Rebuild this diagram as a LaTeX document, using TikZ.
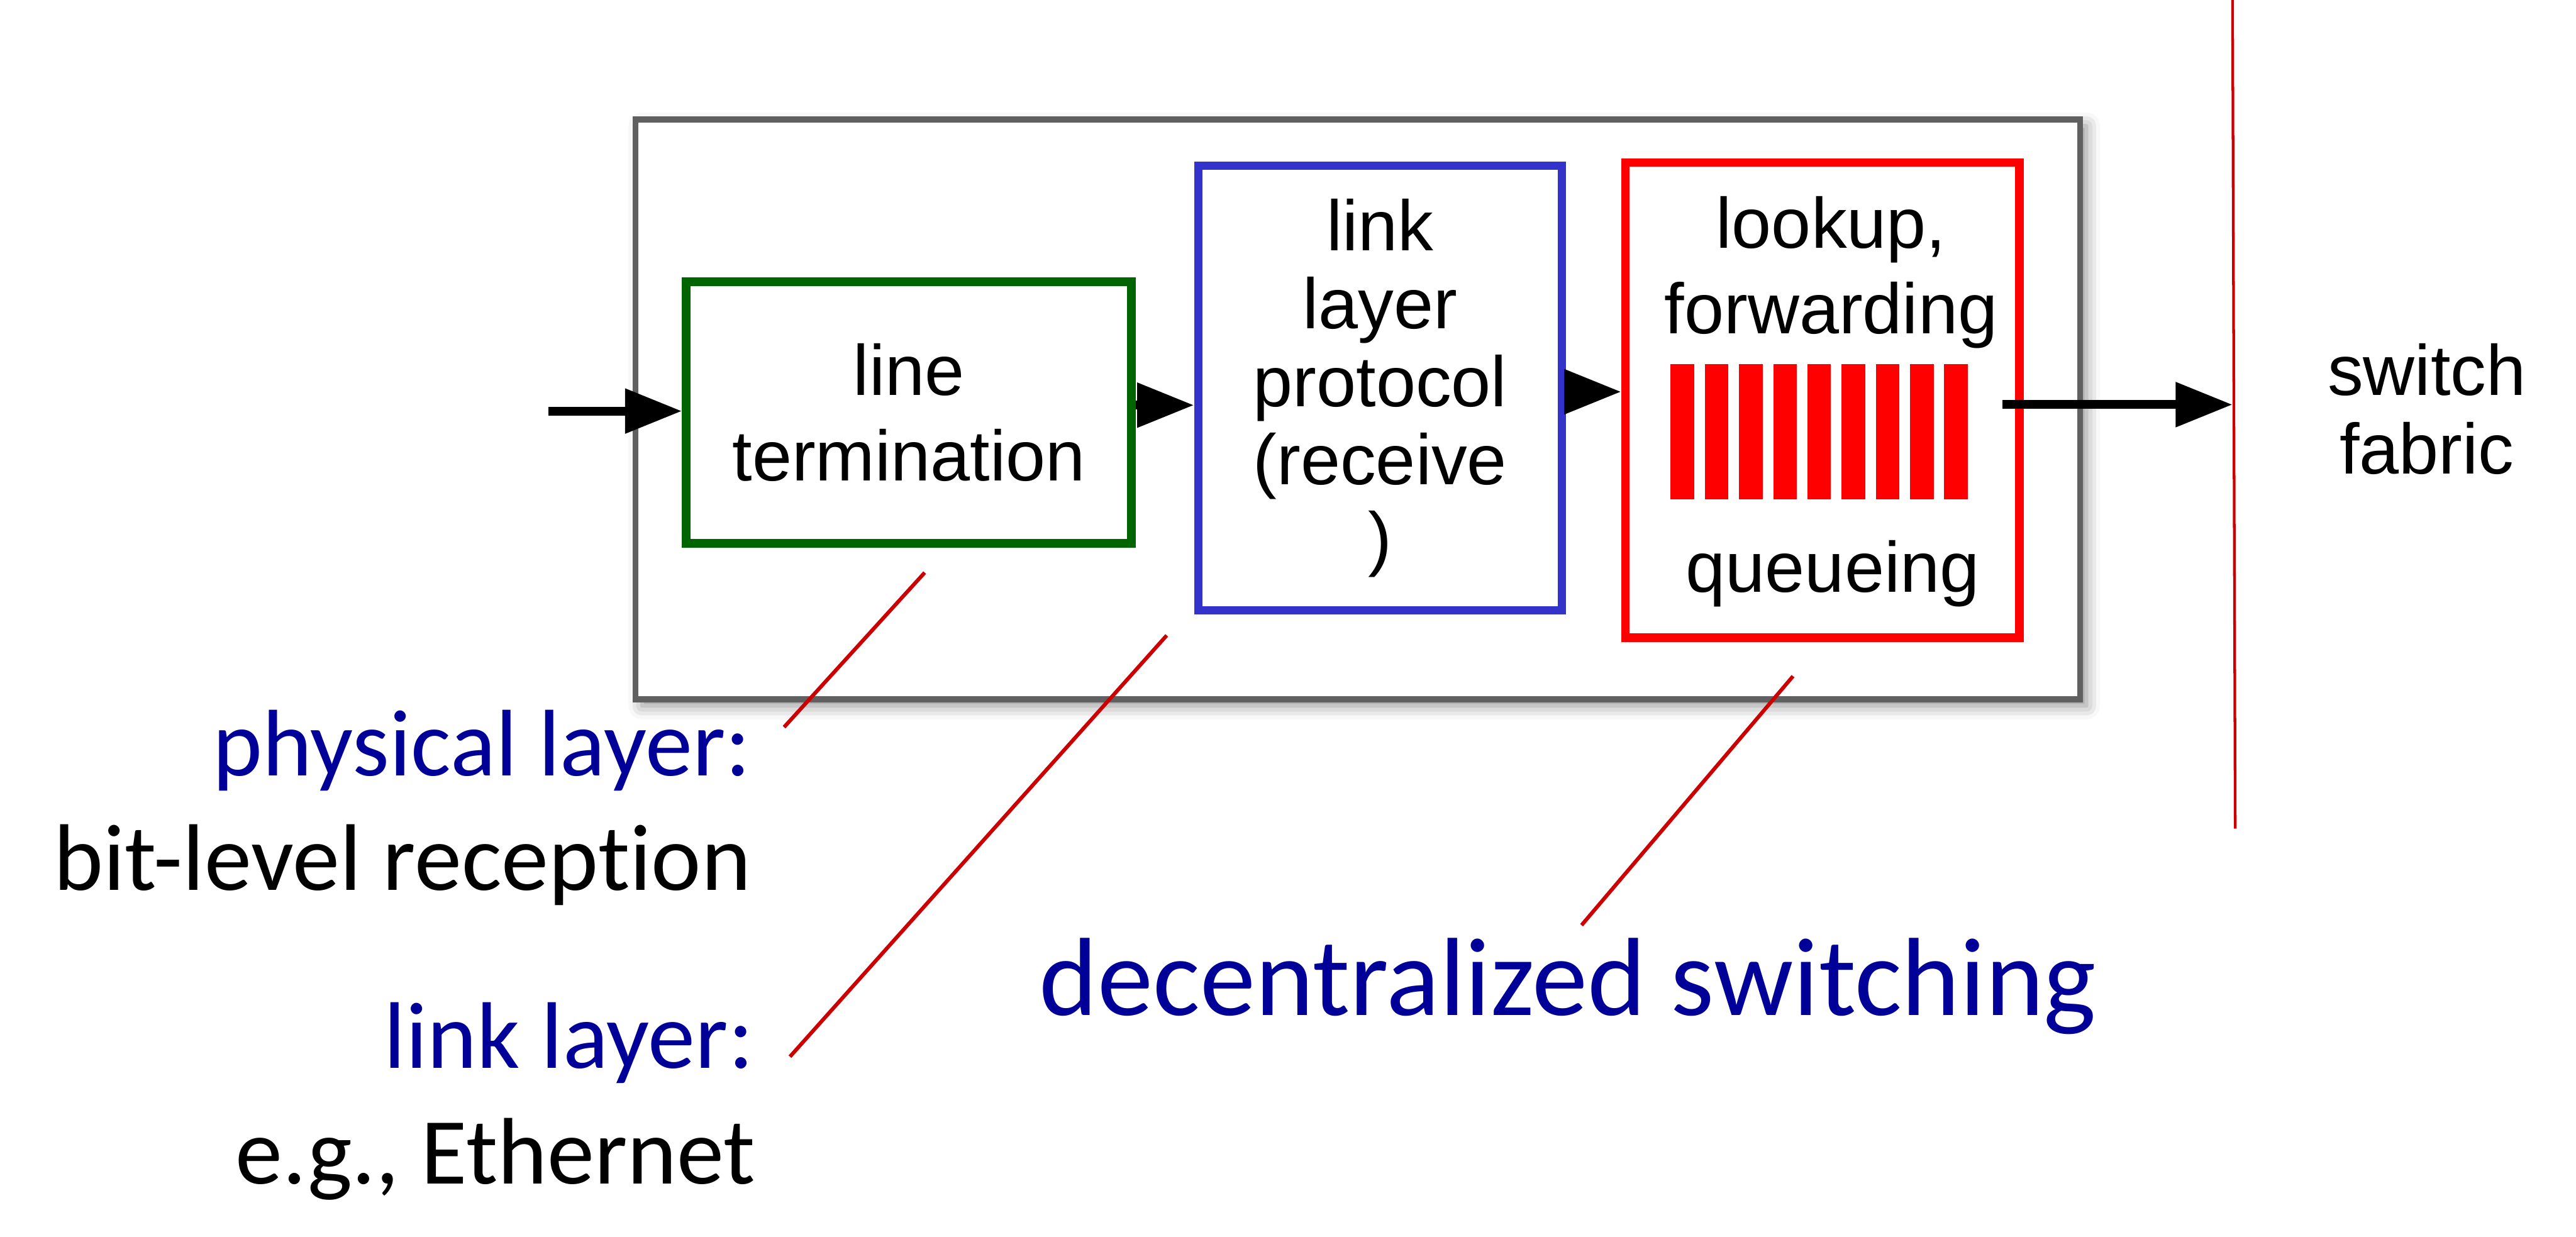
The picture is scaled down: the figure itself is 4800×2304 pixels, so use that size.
\documentclass[tikz,border=0pt]{standalone}
\usepackage{fontspec}
\setmainfont{Liberation Sans}
\newfontfamily\labelfont[Ligatures=NoCommon]{Carlito}
\usetikzlibrary{arrows.meta,shadows.blur,positioning}
\definecolor{framegray}{RGB}{96,96,96}
\definecolor{phygreen}{RGB}{0,100,0}
\definecolor{linkblue}{RGB}{51,51,204}
\definecolor{leadred}{RGB}{204,0,0}
\definecolor{notenavy}{RGB}{0,0,153}
\tikzstyle{port}=[draw=framegray,line width=0.11cm,fill=white,minimum width=26.9cm,minimum height=10.8cm,blur shadow={shadow xshift=0.12cm,shadow yshift=-0.12cm,shadow blur radius=0.25cm,shadow opacity=45}]
\tikzstyle{stage}=[draw,line width=0.16cm,align=center,inner sep=0pt,font=\fontsize{37.8}{41.3}\selectfont]
\tikzstyle{flow}=[draw,line width=0.165cm,-{Triangle[length=1.06cm,width=0.8cm]}]
\tikzstyle{lead}=[draw=leadred,line width=0.07cm]
\tikzstyle{note}=[anchor=base east,inner sep=0pt,font=\labelfont\fontsize{50.1}{60}\selectfont]
\tikzstyle{boxtext}=[anchor=base,inner sep=0pt,font=\fontsize{37.8}{45.5}\selectfont]

\begin{document}
\begin{tikzpicture}[x=0.01cm,y=-0.01cm]

\useasboundingbox (0,0) rectangle (4800,2304);

% The input port and its three stages
\node[port] (port) at (2530,763) {};
\node[stage,draw=phygreen,minimum width=8.29cm,minimum height=4.87cm,font=\fontsize{37.8}{45.5}\selectfont] (green) at (1693.5,768.5) {line\\termination};
\node[stage,draw=linkblue,minimum width=6.77cm,minimum height=8.28cm] (blue) at (2571.5,723) {link\\layer\\protocol\\(receive\\)};
\node[stage,draw=red,minimum width=7.34cm,minimum height=8.85cm] (red) at (3396,745.5) {};

% Text and queue in the last stage
\node[boxtext] (lookup) at (3412,462.5) {lookup,};
\node[boxtext] (fwd) at (3412,622) {forwarding};
\node[boxtext] (queue) at (3415,1103) {queueing};
\foreach \i in {0,...,8}
\fill[red] (3113+63.7*\i,678) rectangle ++(44,253);

% Switch fabric
\coordinate (fabtop) at (4160,0);
\coordinate (fabbot) at (4165,1544);
\draw[leadred,line width=0.05cm] (fabtop) -- (fabbot);
\node[align=center,inner sep=0pt,font=\fontsize{37.8}{41.5}\selectfont] (fabric) at (4522,762) {switch\\fabric};

% Datagram flow
\coordinate (in) at (1022,766);
\coordinate (qout) at (3731,754);
\draw[flow] (in) -- (in -| green.west);
\draw[flow] (green.east |- 0,755) -- (blue.west |- 0,755);
\draw[flow] (blue.east |- 0,730) -- (red.west |- 0,730);
\draw[flow] (qout) -- (qout -| fabtop);

% Labels below the port
\node[note,text=notenavy] (phy) at (1400,1445) {physical layer:};
\node[note] (phydesc) at (1400,1659) {bit-level reception};
\node[note,text=notenavy] (lnk) at (1405,1990) {link layer:};
\node[note] (lnkdesc) at (1408,2206) {e.g., Ethernet};
\node[anchor=base west,inner sep=0pt,text=notenavy,font=\labelfont\fontsize{58.9}{70}\selectfont] (decent) at (1936,1892) {decentralized switching};

% Leader lines from the labels to the stages
\coordinate (phytip) at (1723,1067);
\coordinate (phyend) at (1461,1355);
\coordinate (lnktip) at (2174,1184);
\coordinate (lnkend) at (1472,1969);
\coordinate (quetip) at (3341,1260);
\coordinate (queend) at (2947,1724);
\foreach \from/\to in {phytip/phyend, lnktip/lnkend, quetip/queend}
\path[lead] (\from) -- (\to);

\end{tikzpicture}
\end{document}
